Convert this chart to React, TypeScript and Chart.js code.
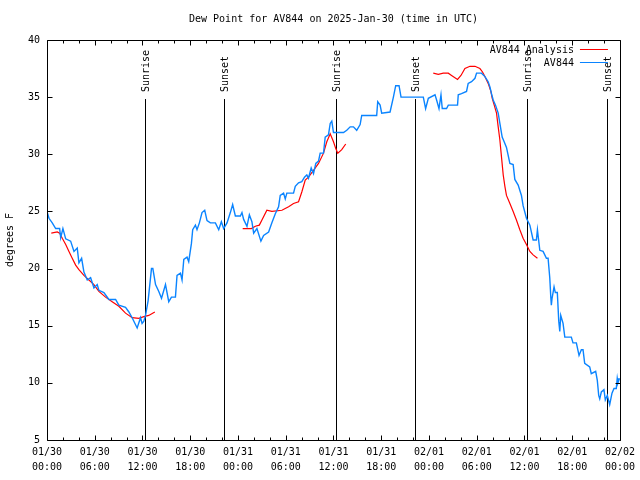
import React, { useEffect, useRef } from 'react';
import { Chart, registerables } from 'chart.js';

Chart.register(...registerables);

const TITLE = 'Dew Point for AV844 on 2025-Jan-30 (time in UTC)';
const Y_TITLE = 'degrees F';
const FONT = "'DejaVu Sans Mono', 'Liberation Mono', monospace";

const xTickLabels = [
  ['01/30', '00:00'], ['01/30', '06:00'], ['01/30', '12:00'], ['01/30', '18:00'],
  ['01/31', '00:00'], ['01/31', '06:00'], ['01/31', '12:00'], ['01/31', '18:00'],
  ['02/01', '00:00'], ['02/01', '06:00'], ['02/01', '12:00'], ['02/01', '18:00'],
  ['02/02', '00:00'],
];

const eventHours = [12.33, 22.25, 36.3, 46.3, 60.3, 70.35];
const eventNames = ['Sunrise', 'Sunset', 'Sunrise', 'Sunset', 'Sunrise', 'Sunset'];

const seriesNames = ['AV844 Analysis', 'AV844'];
const seriesColors = ['#ff0000', '#0a84ff'];

// AV844 observations (hours since 01/30 00:00 UTC, degrees F)
const obsHours = [
  0, 0.25, 0.66, 1.09, 1.59, 1.72, 2.0, 2.35, 2.97, 3.39,
  3.8, 4.01, 4.35, 4.64, 5.06, 5.48, 5.9, 6.31, 6.52, 7.15,
  7.78, 8.62, 9.03, 9.87, 10.29, 10.7, 11.33, 11.75, 11.95, 12.17,
  12.38, 12.71, 13.13, 13.3, 13.64, 14.05, 14.39, 14.89, 15.3, 15.64,
  16.14, 16.34, 16.77, 16.97, 17.19, 17.6, 17.81, 18.15, 18.31, 18.65,
  18.85, 19.15, 19.48, 19.82, 20.11, 20.53, 21.16, 21.58, 21.91, 22.2,
  22.62, 23.04, 23.33, 23.67, 24.3, 24.5, 24.71, 25.13, 25.43, 25.75,
  25.97, 26.38, 26.88, 27.22, 27.85, 28.26, 28.69, 29.1, 29.31, 29.73,
  29.94, 30.14, 30.98, 31.2, 31.61, 32.02, 32.36, 32.65, 32.86, 33.2,
  33.49, 33.78, 34.12, 34.33, 34.75, 34.96, 35.37, 35.59, 35.79, 36.0,
  37.26, 37.67, 38.1, 38.51, 38.92, 39.35, 39.55, 41.43, 41.56, 41.86,
  42.06, 43.11, 43.53, 43.82, 44.24, 44.49, 47.29, 47.58, 47.92, 48.76,
  48.96, 49.26, 49.51, 49.67, 50.21, 50.43, 51.59, 51.68, 52.09, 52.72,
  52.93, 53.35, 53.78, 53.98, 54.6, 55.03, 55.44, 55.66, 55.86, 56.07,
  56.36, 56.7, 56.91, 57.2, 57.45, 57.74, 58.17, 58.58, 58.79, 59.21,
  59.62, 59.83, 60.25, 60.68, 61.09, 61.5, 61.63, 61.93, 62.34, 62.76,
  62.97, 63.18, 63.31, 63.38, 63.47, 63.72, 63.88, 64.13, 64.31, 64.44,
  64.56, 64.85, 65.07, 65.89, 66.1, 66.52, 66.86, 67.15, 67.36, 67.57,
  68.2, 68.4, 68.95, 69.15, 69.33, 69.46, 69.66, 69.99, 70.16, 70.41,
  70.71, 71.0, 71.25, 71.54, 71.66, 71.75, 71.95,
];
const obsDewF = [
  25.0, 24.4, 24.0, 23.5, 23.5, 22.7, 23.5, 22.6, 22.4, 21.5,
  21.8, 20.5, 20.9, 19.7, 19.0, 19.2, 18.3, 18.6, 18.1, 17.9,
  17.3, 17.3, 16.8, 16.6, 16.2, 15.7, 14.8, 15.7, 15.2, 15.4,
  15.9, 17.2, 20.0, 20.0, 18.6, 18.0, 17.4, 18.6, 17.1, 17.5,
  17.5, 19.4, 19.6, 19.0, 20.8, 21.0, 20.6, 22.2, 23.4, 23.8,
  23.4, 24.0, 24.9, 25.1, 24.2, 24.0, 24.0, 23.4, 24.1, 23.5,
  24.0, 24.9, 25.6, 24.6, 24.6, 24.9, 24.3, 23.7, 24.7, 24.1,
  23.1, 23.5, 22.4, 22.9, 23.2, 24.0, 24.8, 25.4, 26.4, 26.6,
  26.1, 26.6, 26.6, 27.2, 27.5, 27.6, 28.0, 28.2, 27.9, 28.8,
  28.3, 29.2, 29.4, 30.1, 30.1, 31.5, 31.7, 32.7, 32.9, 31.9,
  31.9, 32.1, 32.4, 32.4, 32.1, 32.6, 33.4, 33.4, 34.6, 34.3,
  33.6, 33.7, 35.0, 36.0, 36.0, 35.0, 35.0, 34.0, 34.9, 35.2,
  34.75, 34.0, 35.2, 34.0, 34.0, 34.3, 34.3, 35.2, 35.3, 35.5,
  36.2, 36.35, 36.65, 37.1, 37.1, 36.8, 36.35, 35.9, 35.3, 34.75,
  34.3, 33.6, 32.7, 31.5, 31.1, 30.6, 29.2, 29.1, 27.8, 27.3,
  26.4, 25.5, 24.4, 23.8, 22.5, 22.5, 23.4, 21.6, 21.5, 20.9,
  20.9, 19.2, 17.5, 16.8, 17.4, 18.4, 17.9, 17.9, 15.4, 14.5,
  15.9, 15.2, 14.0, 14.0, 13.5, 13.5, 12.4, 12.9, 12.9, 11.7,
  11.4, 10.8, 11.0, 10.25, 8.9, 8.6, 9.2, 9.4, 8.5, 8.9,
  8.1, 9.1, 9.5, 9.5, 10.4, 10.0, 10.4,
];

// AV844 analysis (null = gap between analysis runs)
const anaHours = [
  0.54, 1.29, 1.59, 1.92, 2.35, 2.76, 3.17, 3.6, 4.01, 4.64, 5.27, 5.9, 6.52, 7.36, 8.19, 9.03, 9.87, 10.7, 11.54, 12.17, 12.79, 13.55,
  18,
  24.59, 25.68, 26.18, 26.68, 27.01, 27.63, 28.26, 29.52, 30.36, 30.98, 31.61, 32.02, 32.45, 32.86, 33.49, 34.12, 34.75, 35.16, 35.59, 36.0, 36.29, 36.54, 37.04, 37.54,
  43,
  48.54, 49.17, 49.8, 50.43, 50.84, 51.59, 52.02, 52.52, 53.15, 53.78, 54.4, 54.73, 55.03, 55.44, 55.78, 55.95, 56.2, 56.49, 56.7, 56.91, 57.11, 57.33, 57.54, 57.74, 58.17, 58.58, 58.99, 59.42, 59.83, 60.25, 60.68, 61.09, 61.63,
];
const anaDewF = [
  23.1, 23.2, 23.1, 22.65, 22.1, 21.5, 20.9, 20.3, 19.9, 19.4, 19.0, 18.6, 18.0, 17.5, 17.1, 16.7, 16.1, 15.7, 15.65, 15.8, 15.9, 16.2,
  null,
  23.5, 23.5, 23.7, 23.8, 24.25, 25.1, 25.0, 25.1, 25.4, 25.7, 25.85, 26.7, 27.75, 28.0, 28.6, 29.2, 30.1, 31.1, 31.8, 31.1, 30.5, 30.1, 30.4, 30.9,
  null,
  37.1, 37.0, 37.1, 37.1, 36.9, 36.55, 36.9, 37.5, 37.7, 37.7, 37.5, 37.2, 36.8, 36.2, 35.5, 34.9, 34.3, 33.6, 32.4, 31.25, 29.8, 28.2, 27.2, 26.4, 25.7, 25.0, 24.25, 23.4, 22.65, 22.1, 21.5, 21.2, 20.9,
];

const decorPlugin = {
  id: 'decor',
  beforeDatasetsDraw(chart: any) {
    const { ctx, chartArea: a, scales } = chart;
    const x = scales.x;
    ctx.save();
    ctx.strokeStyle = '#000';
    ctx.fillStyle = '#000';
    ctx.lineWidth = 1;
    ctx.font = `10px ${FONT}`;
    eventHours.forEach((h, i) => {
      const px = Math.round(x.getPixelForValue(h)) + 0.5;
      ctx.beginPath();
      ctx.moveTo(px, a.top + 59);
      ctx.lineTo(px, a.bottom);
      ctx.stroke();
      ctx.save();
      ctx.translate(px + 1, a.top + 52);
      ctx.rotate(-Math.PI / 2);
      ctx.textAlign = 'left';
      ctx.textBaseline = 'middle';
      ctx.fillText(eventNames[i], 0, 0);
      ctx.restore();
    });
    ctx.restore();
  },
  afterDraw(chart: any) {
    const { ctx, chartArea: a, scales } = chart;
    const x = scales.x;
    const y = scales.y;
    ctx.save();
    ctx.strokeStyle = '#000';
    ctx.fillStyle = '#000';
    ctx.lineWidth = 1;
    const L = Math.round(a.left) + 0.5;
    const R = Math.round(a.right) + 0.5;
    const T = Math.round(a.top) + 0.5;
    const B = Math.round(a.bottom) + 0.5;
    ctx.beginPath();
    ctx.rect(L, T, R - L, B - T);
    ctx.stroke();
    // x ticks (every 2 h, major every 6 h), mirrored on top
    ctx.beginPath();
    for (let h = 0; h <= 72; h += 2) {
      const px = Math.round(x.getPixelForValue(h)) + 0.5;
      const len = h % 6 === 0 ? 5 : 3;
      ctx.moveTo(px, B);
      ctx.lineTo(px, B - len);
      ctx.moveTo(px, T);
      ctx.lineTo(px, T + len);
    }
    // y ticks, mirrored on right
    for (let v = 5; v <= 40; v += 5) {
      const py = Math.round(y.getPixelForValue(v)) + 0.5;
      ctx.moveTo(L, py);
      ctx.lineTo(L + 5, py);
      ctx.moveTo(R, py);
      ctx.lineTo(R - 5, py);
    }
    ctx.stroke();

    ctx.font = `10px ${FONT}`;
    // title
    ctx.textAlign = 'center';
    ctx.textBaseline = 'middle';
    ctx.fillText(TITLE, (a.left + a.right) / 2, 19);
    // y title
    ctx.save();
    ctx.translate(10, (a.top + a.bottom) / 2);
    ctx.rotate(-Math.PI / 2);
    ctx.fillText(Y_TITLE, 0, 0);
    ctx.restore();
    // legend
    const rows = [50, 63];
    seriesNames.forEach((name, i) => {
      ctx.textAlign = 'right';
      ctx.textBaseline = 'middle';
      ctx.fillStyle = '#000';
      ctx.fillText(name, a.right - 46, rows[i]);
      ctx.strokeStyle = seriesColors[i];
      ctx.lineWidth = 1;
      ctx.beginPath();
      ctx.moveTo(a.right - 40, rows[i] - 0.5);
      ctx.lineTo(a.right - 12, rows[i] - 0.5);
      ctx.stroke();
    });
    ctx.restore();
  },
};

export default function App() {
  const ref = useRef<HTMLCanvasElement | null>(null);
  useEffect(() => {
    if (!ref.current) return;
    const chart = new Chart(ref.current, {
      type: 'line',
      data: {
        datasets: [
          {
            label: seriesNames[1],
            data: obsHours.map((h, i) => ({ x: h, y: obsDewF[i] })),
            borderColor: seriesColors[1],
            borderWidth: 1.4,
            pointRadius: 0,
            tension: 0,
            fill: false,
          },
          {
            label: seriesNames[0],
            data: anaHours.map((h, i) => ({ x: h, y: anaDewF[i] })),
            borderColor: seriesColors[0],
            borderWidth: 1.2,
            pointRadius: 0,
            tension: 0,
            fill: false,
            spanGaps: false,
          },
        ],
      },
      options: {
        animation: false,
        responsive: false,
        devicePixelRatio: 1,
        layout: { padding: { left: 0, right: 19, top: 40, bottom: 0 } },
        plugins: {
          legend: { display: false },
          title: { display: false },
          tooltip: { enabled: false },
        },
        events: [],
        scales: {
          x: {
            type: 'linear',
            min: 0,
            max: 72,
            grid: { display: false, drawTicks: false },
            border: { display: false },
            ticks: {
              stepSize: 6,
              autoSkip: false,
              maxRotation: 0,
              minRotation: 0,
              padding: 5,
              color: '#000',
              font: { family: FONT, size: 10, lineHeight: 1.5 },
              callback: (v: any) => xTickLabels[Math.round(Number(v) / 6)],
            },
            afterFit: (s: any) => { s.height = 40; },
          },
          y: {
            type: 'linear',
            min: 5,
            max: 40,
            grid: { display: false, drawTicks: false },
            border: { display: false },
            ticks: {
              stepSize: 5,
              padding: 7,
              color: '#000',
              font: { family: FONT, size: 10 },
            },
            afterFit: (s: any) => { s.width = 47; },
          },
        },
      },
      plugins: [decorPlugin],
    } as any);
    return () => chart.destroy();
  }, []);
  return (
    <div style={{ position: 'absolute', left: 0, top: 0, width: 640, height: 480, background: '#fff' }}>
      <canvas ref={ref} width={640} height={480} style={{ display: 'block' }} />
    </div>
  );
}
